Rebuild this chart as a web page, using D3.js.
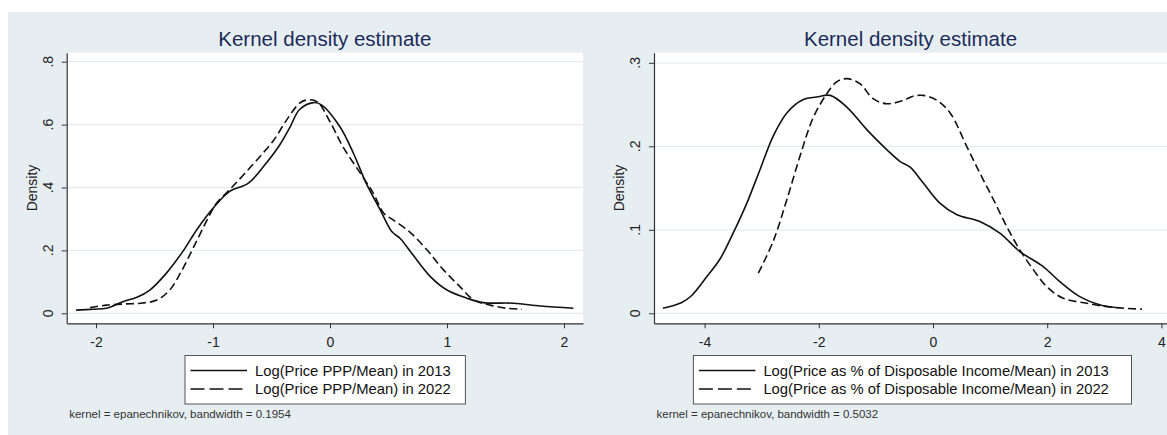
<!DOCTYPE html>
<html><head><meta charset="utf-8">
<script src="https://cdn.jsdelivr.net/npm/d3@7/dist/d3.min.js"></script>
<style>html,body{margin:0;padding:0;background:#fff;}svg{display:block;font-family:"Liberation Sans",Arial,sans-serif;}</style>
</head><body><svg id="c" width="1167" height="435"></svg>
<script>
// ---------- DATA ----------
const titleText = "Kernel density estimate";
const yAxisTitle = "Density";

// Left panel: Log(Price PPP/Mean)
const leftXTicks = [-2, -1, 0, 1, 2];
const leftYTicks = [0, 0.2, 0.4, 0.6, 0.8];
const leftYTickLabels = ["0", ".2", ".4", ".6", ".8"];
const left2013X = [-2.17,-2.02,-1.91,-1.77,-1.65,-1.54,-1.40,-1.25,-1.14,-1.00,-0.86,-0.70,-0.57,-0.43,-0.34,-0.26,-0.14,-0.07,0.085,0.20,0.31,0.43,0.53,0.60,0.71,0.86,1.00,1.17,1.31,1.57,1.80,2.08];
const left2013Y = [0.010,0.013,0.016,0.037,0.051,0.074,0.127,0.201,0.265,0.334,0.387,0.413,0.466,0.535,0.593,0.648,0.670,0.662,0.593,0.509,0.413,0.328,0.259,0.238,0.185,0.116,0.074,0.048,0.034,0.032,0.023,0.016];
const left2022X = [-2.05,-1.91,-1.74,-1.62,-1.48,-1.37,-1.28,-1.17,-1.05,-0.97,-0.86,-0.74,-0.60,-0.48,-0.37,-0.26,-0.20,-0.11,0.0,0.11,0.26,0.37,0.46,0.54,0.68,0.83,0.97,1.11,1.23,1.37,1.51,1.64];
const left2022Y = [0.018,0.026,0.030,0.032,0.042,0.074,0.127,0.207,0.297,0.350,0.392,0.440,0.498,0.551,0.615,0.668,0.678,0.673,0.609,0.530,0.445,0.382,0.318,0.297,0.259,0.201,0.138,0.085,0.042,0.026,0.016,0.013];
const leftLegend = ["Log(Price PPP/Mean) in 2013", "Log(Price PPP/Mean) in 2022"];
const leftNote = "kernel = epanechnikov, bandwidth = 0.1954";

// Right panel: Log(Price as % of Disposable Income/Mean)
const rightXTicks = [-4, -2, 0, 2, 4];
const rightYTicks = [0, 0.1, 0.2, 0.3];
const rightYTickLabels = ["0", ".1", ".2", ".3"];
const right2013X = [-4.73,-4.40,-4.23,-3.96,-3.73,-3.50,-3.26,-3.03,-2.80,-2.56,-2.27,-2.04,-1.80,-1.51,-1.16,-0.81,-0.58,-0.40,-0.17,0.12,0.42,0.82,1.17,1.52,1.93,2.22,2.57,2.93,3.20];
const right2013Y = [0.006,0.013,0.021,0.044,0.065,0.096,0.132,0.172,0.212,0.240,0.256,0.259,0.261,0.247,0.220,0.196,0.182,0.175,0.156,0.132,0.118,0.110,0.096,0.074,0.056,0.038,0.020,0.010,0.007];
const right2022X = [-3.06,-2.80,-2.56,-2.33,-2.10,-1.86,-1.69,-1.51,-1.28,-1.05,-0.81,-0.52,-0.35,-0.17,0.07,0.30,0.59,0.82,1.06,1.29,1.52,1.76,1.99,2.28,2.69,3.16,3.66];
const right2022Y = [0.048,0.086,0.136,0.188,0.234,0.263,0.277,0.281,0.275,0.257,0.251,0.255,0.260,0.261,0.255,0.240,0.200,0.168,0.136,0.104,0.076,0.052,0.032,0.018,0.012,0.007,0.005];
const rightLegend = ["Log(Price as % of Disposable Income/Mean) in 2013", "Log(Price as % of Disposable Income/Mean) in 2022"];
const rightNote = "kernel = epanechnikov, bandwidth = 0.5032";

// ---------- DRAW ----------
const svg = d3.select("#c");
svg.append("rect").attr("x",8).attr("y",12).attr("width",1159).attr("height",423).attr("fill","#e7eef2");

function panel(cfg){
  const g = svg.append("g");
  const x = d3.scaleLinear().domain(cfg.xDomain).range([cfg.left, cfg.right]);
  const y = d3.scaleLinear().domain(cfg.yDomain).range([cfg.bottom, cfg.top]);
  g.append("rect").attr("x",cfg.left).attr("y",cfg.top).attr("width",cfg.right-cfg.left).attr("height",cfg.bottom-cfg.top).attr("fill","#fff");
  g.selectAll("line.grid").data(cfg.yTicks).enter().append("line")
    .attr("x1",cfg.left).attr("x2",cfg.right).attr("y1",d=>y(d)).attr("y2",d=>y(d))
    .attr("stroke","#e4ecf2").attr("stroke-width",1.3);
  g.append("text").attr("x",(cfg.left+cfg.right)/2).attr("y",45.5).attr("text-anchor","middle")
    .attr("font-size",20.5).attr("fill","#1c2b5a").text(titleText);
  const xAxis = d3.axisBottom(x).tickValues(cfg.xTicks).tickSize(5).tickSizeOuter(0).tickPadding(6).tickFormat(d3.format("d"));
  const ax = g.append("g").attr("transform",`translate(0,${cfg.bottom})`).call(xAxis);
  ax.select(".domain").attr("stroke","#333").attr("stroke-width",1.2);
  ax.selectAll(".tick line").attr("stroke","#333");
  ax.selectAll(".tick text").attr("font-size",14).attr("fill","#222").attr("font-family","Liberation Sans, Arial, sans-serif").attr("dy",12.4)
    .text(d=>d<0?"-"+Math.abs(d):d);
  const yAxis = d3.axisLeft(y).tickValues(cfg.yTicks).tickSize(5).tickSizeOuter(0).tickFormat((d,i)=>cfg.yLabels[i]);
  const ay = g.append("g").attr("transform",`translate(${cfg.left},0)`).call(yAxis);
  ay.select(".domain").attr("stroke","#333").attr("stroke-width",1.2);
  ay.selectAll(".tick line").attr("stroke","#333");
  ay.selectAll(".tick text").remove();
  g.selectAll("text.ylab").data(cfg.yTicks).enter().append("text")
    .attr("transform",d=>`translate(${cfg.left-19},${y(d)}) rotate(-90)`)
    .attr("text-anchor","middle").attr("dy","0.35em").attr("font-size",14).attr("fill","#222")
    .text((d,i)=>cfg.yLabels[i]);
  g.append("text").attr("transform",`translate(${cfg.left-35},${(cfg.top+cfg.bottom)/2}) rotate(-90)`)
    .attr("text-anchor","middle").attr("dy","0.35em").attr("font-size",14).attr("fill","#222").text(yAxisTitle);
  const line = d3.line().x(d=>x(d[0])).y(d=>y(d[1])).curve(d3.curveCatmullRom.alpha(0.5));
  const s1 = cfg.x1.map((v,i)=>[v,cfg.y1[i]]);
  const s2 = cfg.x2.map((v,i)=>[v,cfg.y2[i]]);
  g.append("path").attr("d",line(s1)).attr("fill","none").attr("stroke","#111").attr("stroke-width",1.6);
  g.append("path").attr("d",line(s2)).attr("fill","none").attr("stroke","#111").attr("stroke-width",1.6).attr("stroke-dasharray","8,4");
  const lg = g.append("g");
  lg.append("rect").attr("x",cfg.legX0).attr("y",355.5).attr("width",cfg.legX1-cfg.legX0).attr("height",48.5)
    .attr("fill","#fff").attr("stroke","#555").attr("stroke-width",1);
  const rows=[370.5,389];
  rows.forEach((ry,i)=>{
    lg.append("line").attr("x1",cfg.legX0+5.5).attr("x2",cfg.legX0+62).attr("y1",ry).attr("y2",ry)
      .attr("stroke","#111").attr("stroke-width",1.6).attr("stroke-dasharray",i?"14,5":null);
    lg.append("text").attr("x",cfg.legX0+70).attr("y",ry).attr("dy","0.36em").attr("font-size",14.8).attr("fill","#111").text(cfg.legend[i]);
  });
  g.append("text").attr("x",cfg.left+2.5).attr("y",418).attr("font-size",11.5).attr("fill","#333").text(cfg.note);
}

panel({left:66.7,right:583,top:52.7,bottom:323.3,xDomain:[-2.2504,2.1624],yDomain:[-0.0318,0.8286],
  xTicks:leftXTicks,yTicks:leftYTicks,yLabels:leftYTickLabels,x1:left2013X,y1:left2013Y,x2:left2022X,y2:left2022Y,
  legend:leftLegend,legX0:185,legX1:465.4,note:leftNote});
panel({left:654,right:1167,top:52.7,bottom:323.3,xDomain:[-4.886,4.098],yDomain:[-0.01198,0.3121],
  xTicks:rightXTicks,yTicks:rightYTicks,yLabels:rightYTickLabels,x1:right2013X,y1:right2013Y,x2:right2022X,y2:right2022Y,
  legend:rightLegend,legX0:693.4,legX1:1131.5,note:rightNote});
</script></body></html>
